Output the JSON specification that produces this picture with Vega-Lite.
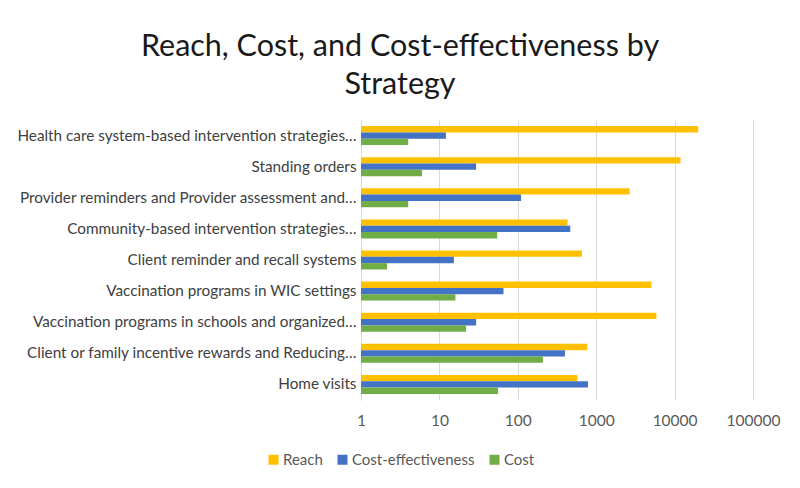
{
  "$schema": "https://vega.github.io/schema/vega-lite/v6.json",
  "width": 392,
  "height": 280,
  "autosize": {"type": "none"},
  "padding": {"left": 361, "top": 120, "right": 47, "bottom": 88},
  "background": "white",
  "title": {
    "text": ["Reach, Cost, and Cost-effectiveness by", "Strategy"],
    "font": "Lato",
    "fontSize": 30.5,
    "fontWeight": "normal",
    "color": "#1a1a1a",
    "lineHeight": 38,
    "anchor": "middle",
    "dx": -157,
    "offset": 20
  },
  "data": {
    "values": [
      {"strategy": "Health care system-based intervention strategies…", "measure": "Reach", "value": 20000},
      {"strategy": "Health care system-based intervention strategies…", "measure": "Cost-effectiveness", "value": 12.1},
      {"strategy": "Health care system-based intervention strategies…", "measure": "Cost", "value": 4.0},
      {"strategy": "Standing orders", "measure": "Reach", "value": 11900},
      {"strategy": "Standing orders", "measure": "Cost-effectiveness", "value": 29.4},
      {"strategy": "Standing orders", "measure": "Cost", "value": 6.0},
      {"strategy": "Provider reminders and Provider assessment and…", "measure": "Reach", "value": 2670},
      {"strategy": "Provider reminders and Provider assessment and…", "measure": "Cost-effectiveness", "value": 110},
      {"strategy": "Provider reminders and Provider assessment and…", "measure": "Cost", "value": 4.0},
      {"strategy": "Community-based intervention strategies…", "measure": "Reach", "value": 431},
      {"strategy": "Community-based intervention strategies…", "measure": "Cost-effectiveness", "value": 467},
      {"strategy": "Community-based intervention strategies…", "measure": "Cost", "value": 54.6},
      {"strategy": "Client reminder and recall systems", "measure": "Reach", "value": 658},
      {"strategy": "Client reminder and recall systems", "measure": "Cost-effectiveness", "value": 15.3},
      {"strategy": "Client reminder and recall systems", "measure": "Cost", "value": 2.15},
      {"strategy": "Vaccination programs in WIC settings", "measure": "Reach", "value": 5060},
      {"strategy": "Vaccination programs in WIC settings", "measure": "Cost-effectiveness", "value": 65.7},
      {"strategy": "Vaccination programs in WIC settings", "measure": "Cost", "value": 16.0},
      {"strategy": "Vaccination programs in schools and organized…", "measure": "Reach", "value": 5860},
      {"strategy": "Vaccination programs in schools and organized…", "measure": "Cost-effectiveness", "value": 29.4},
      {"strategy": "Vaccination programs in schools and organized…", "measure": "Cost", "value": 21.9},
      {"strategy": "Client or family incentive rewards and Reducing…", "measure": "Reach", "value": 769},
      {"strategy": "Client or family incentive rewards and Reducing…", "measure": "Cost-effectiveness", "value": 399},
      {"strategy": "Client or family incentive rewards and Reducing…", "measure": "Cost", "value": 209},
      {"strategy": "Home visits", "measure": "Reach", "value": 574},
      {"strategy": "Home visits", "measure": "Cost-effectiveness", "value": 785},
      {"strategy": "Home visits", "measure": "Cost", "value": 56}
    ]
  },
  "mark": {"type": "bar"},
  "encoding": {
    "y": {
      "field": "strategy",
      "type": "nominal",
      "sort": null,
      "scale": {"paddingInner": 0.39, "paddingOuter": 0.195},
      "axis": {
        "title": null,
        "labelFont": "Lato",
        "labelFontSize": 15.3,
        "labelColor": "#404040",
        "labelLimit": 400,
        "ticks": false,
        "labelPadding": 5,
        "domainColor": "#d9d9d9"
      }
    },
    "yOffset": {
      "field": "measure",
      "type": "nominal",
      "sort": ["Reach", "Cost-effectiveness", "Cost"],
      "scale": {"paddingInner": 0, "paddingOuter": 0}
    },
    "x": {
      "field": "value",
      "type": "quantitative",
      "scale": {"type": "log", "domain": [1, 100000]},
      "axis": {
        "title": null,
        "values": [1, 10, 100, 1000, 10000, 100000],
        "format": "d",
        "labelFont": "Lato",
        "labelFontSize": 15.5,
        "labelColor": "#595959",
        "labelFlush": false,
        "labelOverlap": false,
        "ticks": false,
        "domain": false,
        "gridColor": "#d9d9d9",
        "labelPadding": 13
      }
    },
    "x2": {"datum": 1},
    "color": {
      "field": "measure",
      "type": "nominal",
      "sort": ["Reach", "Cost-effectiveness", "Cost"],
      "scale": {"domain": ["Reach", "Cost-effectiveness", "Cost"], "range": ["#FFC000", "#4472C4", "#70AD47"]},
      "legend": {
        "title": null,
        "orient": "none",
        "direction": "horizontal",
        "legendX": -95,
        "legendY": 332,
        "symbolType": "square",
        "symbolSize": 100,
        "symbolStrokeWidth": 0,
        "labelFont": "Lato",
        "labelFontSize": 15,
        "labelColor": "#595959",
        "columnPadding": 12,
        "labelOffset": 2
      }
    }
  },
  "config": {
    "view": {"stroke": null}
  }
}
